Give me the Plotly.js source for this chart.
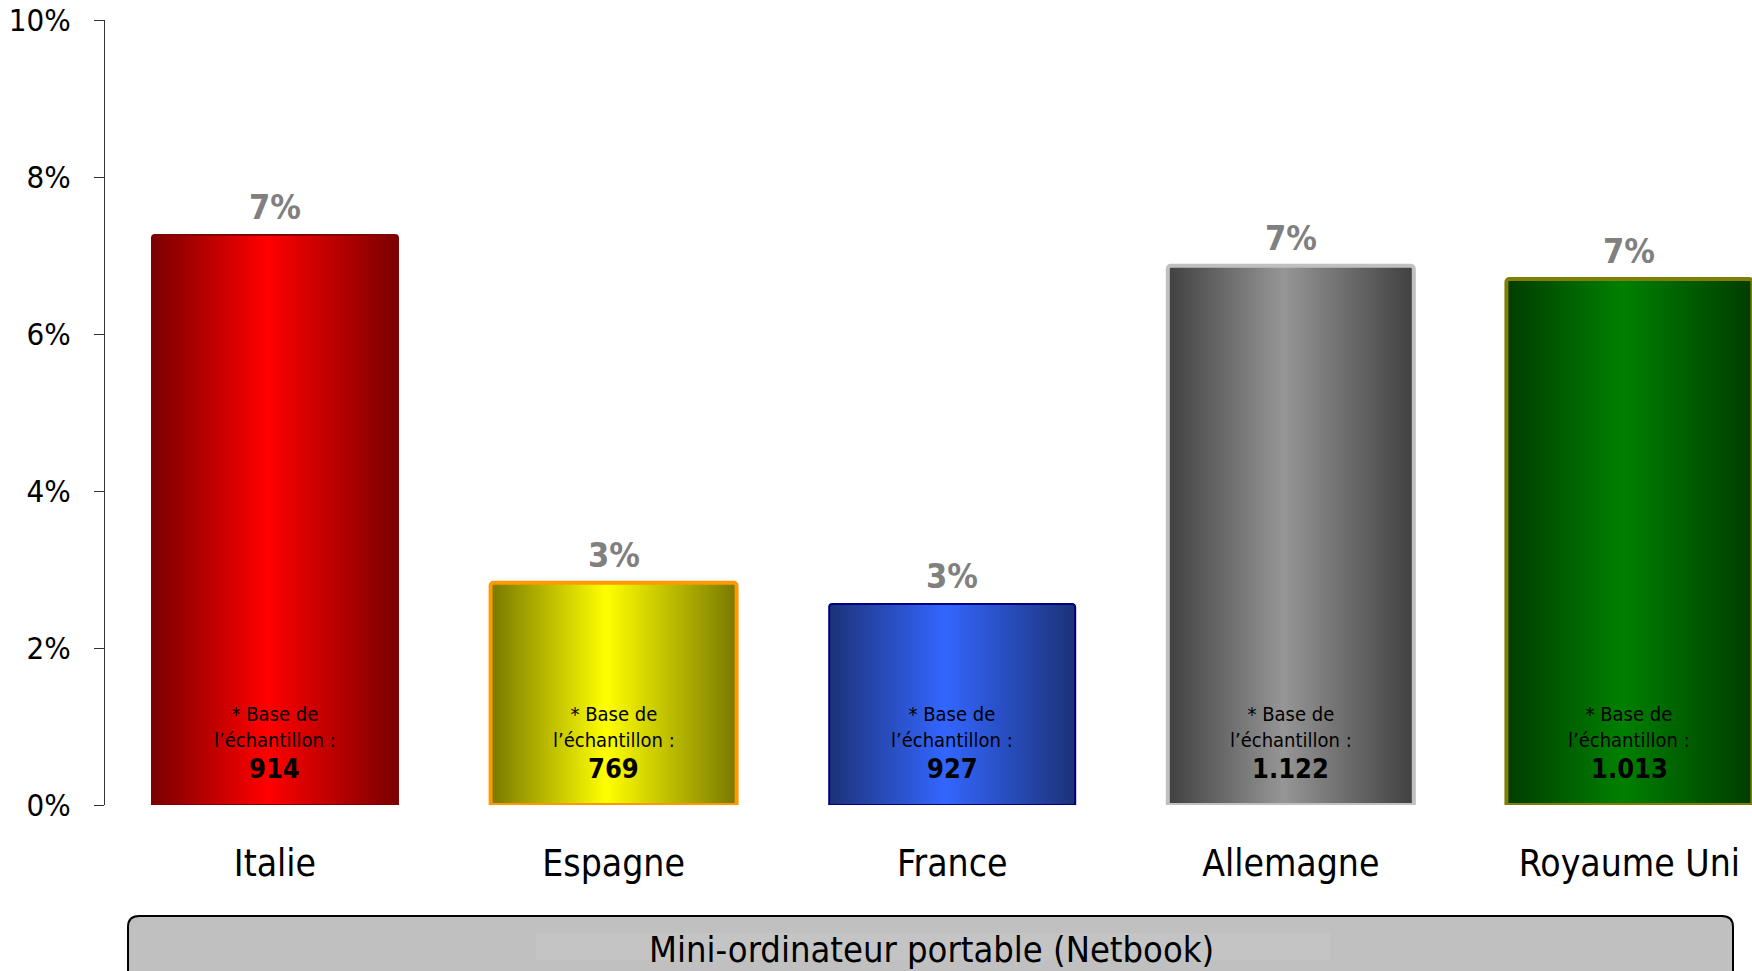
<!DOCTYPE html>
<html>
<head>
<meta charset="utf-8">
<script src="https://cdn.plot.ly/plotly-3.0.1.min.js"></script>
<style>
  html, body { margin: 0; padding: 0; background: #ffffff; }
  #chart { width: 1752px; height: 971px; }
</style>
</head>
<body>
<div id="chart"></div>
<script>
// ---- Data ----
const categories = ['Italie', 'Espagne', 'France', 'Allemagne', 'Royaume Uni'];
const values = [7.26, 2.83, 2.56, 6.87, 6.70];
const valueLabels = ['7%', '3%', '3%', '7%', '7%'];
const sampleBases = ['914', '769', '927', '1.122', '1.013'];
const baseLabel = '* Base de<br>l’échantillon :';
const groupLabel = 'Mini-ordinateur portable (Netbook)';
const yTickValues = [0, 2, 4, 6, 8, 10];
const yTickLabels = ['0%', '2%', '4%', '6%', '8%', '10%'];

// ---- Styles ----
const FONT = '"DejaVu Sans Condensed", "DejaVu Sans", sans-serif';
const edgeColors = ['#7a0000', '#787800', '#1c3278', '#404040', '#003c00'];
const centerColors = ['#ff0000', '#ffff00', '#3366ff', '#969696', '#008000'];
const borderColors = ['#800000', '#ff9900', '#000080', '#c0c0c0', '#808000'];
const borderWidths = [2, 4, 2, 4, 4];

const data = [{
  type: 'bar',
  x: categories,
  y: values,
  marker: {
    color: centerColors,
    line: { color: borderColors, width: borderWidths },
    cornerradius: 3
  },
  hoverinfo: 'skip'
}];

const annotations = [];
categories.forEach((c, i) => {
  annotations.push({
    x: c, y: values[i], xref: 'x', yref: 'y',
    text: valueLabels[i], showarrow: false,
    yanchor: 'bottom', yshift: 6,
    font: { family: FONT, size: 34, color: '#808080', weight: 'bold' }
  });
  annotations.push({
    x: c, y: 0, xref: 'x', yref: 'y',
    text: baseLabel, showarrow: false,
    yanchor: 'bottom', yshift: 51,
    font: { family: FONT, size: 20, color: '#000000' }
  });
  annotations.push({
    x: c, y: 0, xref: 'x', yref: 'y',
    text: '<b>' + sampleBases[i] + '</b>', showarrow: false,
    yanchor: 'bottom', yshift: 19,
    font: { family: FONT, size: 27, color: '#000000' }
  });
});
annotations.push({
  x: 0.502, y: -0.184, xref: 'paper', yref: 'paper',
  text: groupLabel, showarrow: false,
  xanchor: 'center', yanchor: 'middle',
  font: { family: FONT, size: 36, color: '#000000' }
});

// rounded box in paper coords
const bx0 = 0.01397, bx1 = 0.98846, byt = -0.1414, byb = -0.26;
const rx = 11 / 1647, ry = 11 / 785;
const boxPath = `M ${bx0},${byb} L ${bx0},${byt - ry} Q ${bx0},${byt} ${bx0 + rx},${byt} ` +
  `L ${bx1 - rx},${byt} Q ${bx1},${byt} ${bx1},${byt - ry} L ${bx1},${byb} Z`;

const layout = {
  width: 1752, height: 971,
  margin: { l: 105, r: 0, t: 20, b: 166, pad: 0 },
  paper_bgcolor: '#ffffff', plot_bgcolor: '#ffffff',
  showlegend: false,
  bargap: 0.2735,
  font: { family: FONT, color: '#000000' },
  xaxis: {
    type: 'category',
    range: [-0.502, 4.362],
    showgrid: false, zeroline: false, showline: false,
    ticks: '', ticklabelstandoff: 33,
    tickfont: { family: FONT, size: 37, color: '#000000' },
    fixedrange: true
  },
  yaxis: {
    range: [0, 10],
    tickmode: 'array',
    tickvals: yTickValues,
    ticktext: yTickLabels,
    showgrid: false, zeroline: false,
    showline: true, linecolor: '#333333', linewidth: 1,
    ticks: 'outside', ticklen: 10, tickcolor: '#333333', tickwidth: 1,
    ticklabelstandoff: 17,
    tickfont: { family: FONT, size: 31, color: '#000000' },
    fixedrange: true
  },
  shapes: [
    {
      type: 'path', xref: 'paper', yref: 'paper', path: boxPath,
      fillcolor: '#c0c0c0', line: { color: '#000000', width: 2 }, layer: 'above'
    },
    {
      type: 'rect', xref: 'paper', yref: 'paper',
      x0: 0.2617, x1: 0.7438, y0: -0.1631, y1: -0.1975,
      fillcolor: '#c4c4c4', line: { width: 0 }, layer: 'above'
    }
  ],
  annotations: annotations
};

Plotly.newPlot('chart', data, layout, { displayModeBar: false, staticPlot: true }).then(gd => {
  const NS = 'http://www.w3.org/2000/svg';
  const svg = gd.querySelector('svg.main-svg');
  let defs = svg.querySelector('defs');
  if (!defs) { defs = document.createElementNS(NS, 'defs'); svg.insertBefore(defs, svg.firstChild); }
  categories.forEach((c, i) => {
    const lg = document.createElementNS(NS, 'linearGradient');
    lg.setAttribute('id', 'barGrad' + i);
    lg.setAttribute('x1', '0'); lg.setAttribute('y1', '0');
    lg.setAttribute('x2', '1'); lg.setAttribute('y2', '0');
    [[0, edgeColors[i]], [0.47, centerColors[i]], [1, edgeColors[i]]].forEach(([o, col]) => {
      const s = document.createElementNS(NS, 'stop');
      s.setAttribute('offset', o);
      s.setAttribute('stop-color', col);
      lg.appendChild(s);
    });
    defs.appendChild(lg);
  });
  gd.querySelectorAll('.barlayer .trace .point path').forEach((p, i) => {
    p.style.fill = `url(#barGrad${i})`;
  });
});
</script>
</body>
</html>
